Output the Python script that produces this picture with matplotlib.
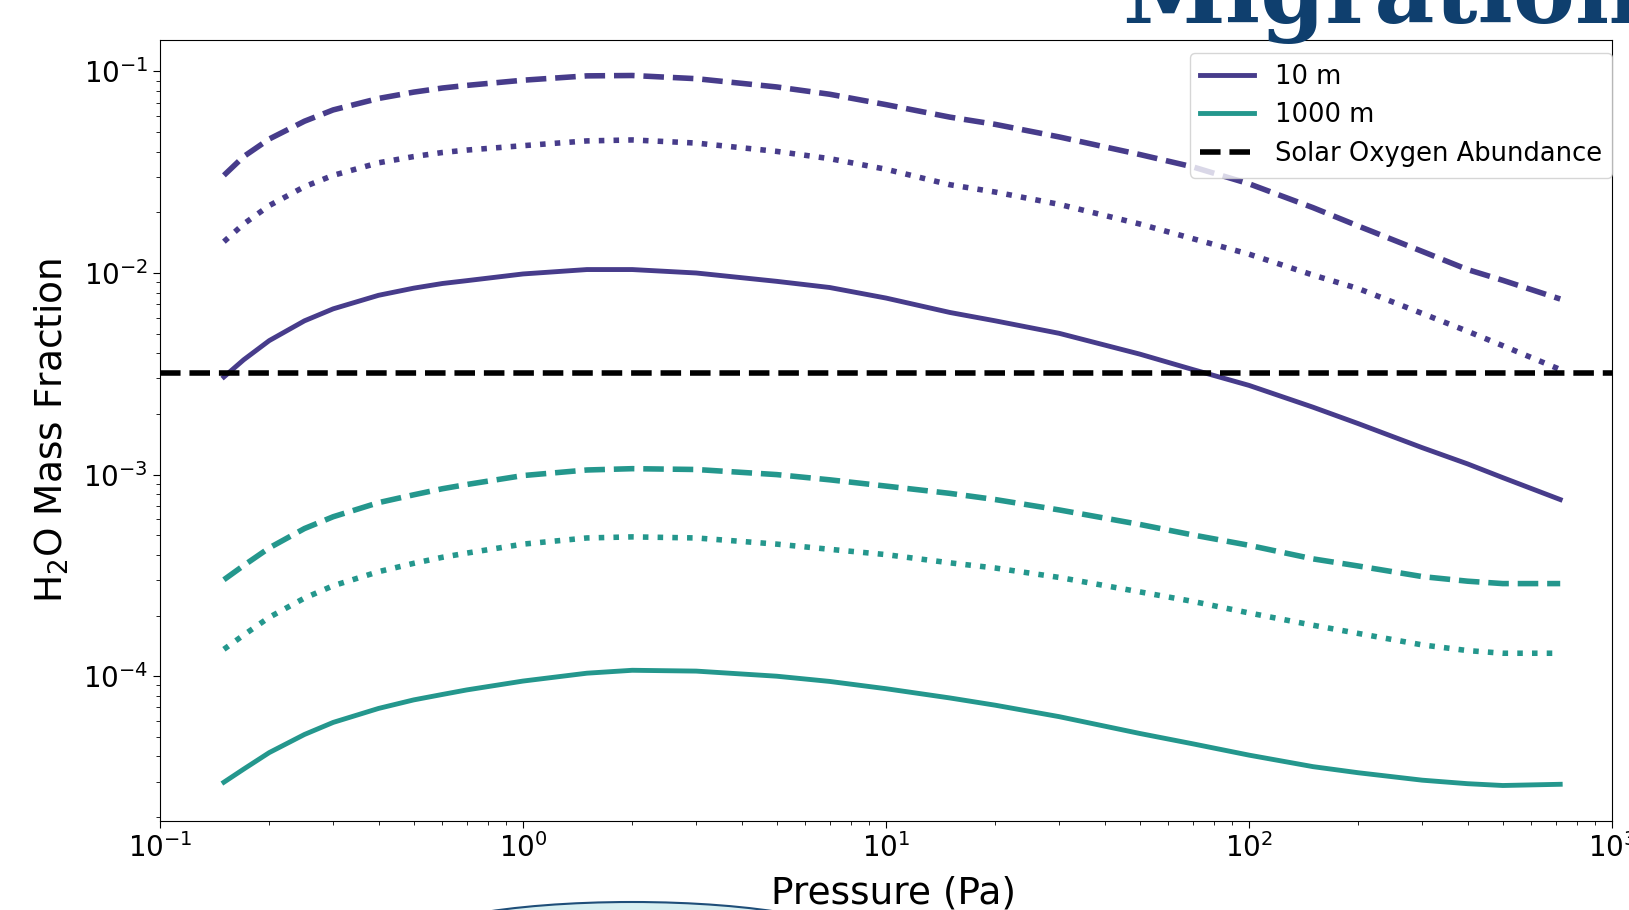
import numpy as np
import matplotlib.pyplot as plt
from matplotlib.patches import Ellipse

# pressure grid (Pa) the curves were read at
pressure = [0.15, 0.17, 0.2, 0.25, 0.3, 0.4, 0.5, 0.6, 0.7, 1, 1.5, 2, 3, 5, 7,
            10, 15, 20, 30, 50, 70, 100, 150, 200, 300, 400, 500, 720]

# 10 m
h2o_10_solid = [3.05e-3, 3.71e-3, 4.62e-3, 5.79e-3, 6.64e-3, 7.75e-3, 8.41e-3,
                8.87e-3, 9.16e-3, 9.89e-3, 1.04e-2, 1.04e-2, 1.00e-2, 9.09e-3,
                8.47e-3, 7.51e-3, 6.37e-3, 5.79e-3, 5.02e-3, 3.96e-3, 3.32e-3,
                2.77e-3, 2.16e-3, 1.79e-3, 1.36e-3, 1.13e-3, 9.66e-4, 7.52e-4]
h2o_10_dashed = [3.05e-2, 3.78e-2, 4.62e-2, 5.66e-2, 6.44e-2, 7.34e-2, 7.89e-2,
                 8.27e-2, 8.52e-2, 9.04e-2, 9.50e-2, 9.54e-2, 9.20e-2, 8.37e-2,
                 7.70e-2, 6.84e-2, 5.93e-2, 5.46e-2, 4.73e-2, 3.87e-2, 3.36e-2,
                 2.77e-2, 2.11e-2, 1.71e-2, 1.28e-2, 1.04e-2, 9.20e-3, 7.43e-3]
h2o_10_dotted = [1.43e-2, 1.75e-2, 2.16e-2, 2.68e-2, 3.05e-2, 3.52e-2, 3.78e-2,
                 3.96e-2, 4.07e-2, 4.28e-2, 4.52e-2, 4.57e-2, 4.41e-2, 4.01e-2,
                 3.69e-2, 3.27e-2, 2.74e-2, 2.52e-2, 2.19e-2, 1.75e-2, 1.48e-2,
                 1.24e-2, 9.77e-3, 8.37e-3, 6.30e-3, 5.14e-3, 4.36e-3, 3.32e-3]

# 1000 m
h2o_1000_solid = [2.98e-5, 3.46e-5, 4.18e-5, 5.14e-5, 5.90e-5, 6.92e-5, 7.63e-5,
                  8.12e-5, 8.55e-5, 9.46e-5, 1.035e-4, 1.07e-4, 1.06e-4, 1.00e-4,
                  9.42e-5, 8.67e-5, 7.80e-5, 7.18e-5, 6.30e-5, 5.20e-5, 4.62e-5,
                  4.06e-5, 3.56e-5, 3.32e-5, 3.05e-5, 2.93e-5, 2.87e-5, 2.91e-5]
h2o_1000_dashed = [3.01e-4, 3.54e-4, 4.33e-4, 5.40e-4, 6.18e-4, 7.26e-4, 7.94e-4,
                   8.51e-4, 8.93e-4, 9.89e-4, 1.054e-3, 1.07e-3, 1.06e-3, 1.00e-3,
                   9.42e-4, 8.77e-4, 8.07e-4, 7.52e-4, 6.68e-4, 5.66e-4, 5.02e-4,
                   4.46e-4, 3.82e-4, 3.52e-4, 3.12e-4, 2.96e-4, 2.88e-4, 2.88e-4]
h2o_1000_dotted = [1.36e-4, 1.60e-4, 1.96e-4, 2.44e-4, 2.81e-4, 3.30e-4, 3.63e-4,
                   3.89e-4, 4.08e-4, 4.52e-4, 4.85e-4, 4.91e-4, 4.85e-4, 4.52e-4,
                   4.26e-4, 4.01e-4, 3.65e-4, 3.44e-4, 3.09e-4, 2.62e-4, 2.35e-4,
                   2.06e-4, 1.79e-4, 1.63e-4, 1.43e-4, 1.34e-4, 1.30e-4, 1.30e-4]

solar_oxygen = 3.2e-3

purple = '#473c8b'
teal = '#24978d'
lw_solid = 3.5
lw = 4

fig = plt.figure(figsize=(16.29, 9.10), dpi=100)
ax = fig.add_axes([160/1629, 89/910, 1452/1629, 781/910])

ax.plot(pressure, h2o_10_solid, color=purple, lw=lw_solid, label='10 m')
ax.plot(pressure, h2o_10_dashed, color=purple, lw=lw, ls='--')
ax.plot(pressure, h2o_10_dotted, color=purple, lw=lw, ls=':')
ax.plot(pressure, h2o_1000_solid, color=teal, lw=lw_solid, label='1000 m')
ax.plot(pressure, h2o_1000_dashed, color=teal, lw=lw, ls='--')
ax.plot(pressure, h2o_1000_dotted, color=teal, lw=lw, ls=':')
ax.axhline(solar_oxygen, color='black', lw=lw, ls='--', label='Solar Oxygen Abundance')

ax.set_xscale('log')
ax.set_yscale('log')
ax.set_xlim(0.1, 1000)
ax.tick_params(which='major', labelsize=20, length=5)
ax.tick_params(which='minor', length=3)
ax.set_xlabel('Pressure (Pa)', fontsize=27, labelpad=9)
ax.set_ylabel(r'H$_2$O Mass Fraction', fontsize=27, labelpad=9)
ax.xaxis.label.set_x(0.505)

ax.legend(loc='upper right', bbox_to_anchor=(1.0, 0.983), borderaxespad=0,
          fontsize=18.5, handlelength=2.1)

# slide decorations around the chart
fig.text(1122/1629, 1 - 23/910, 'Migration', family='DejaVu Serif', weight='bold',
         fontsize=67, color='#0f3f6e', ha='left', va='baseline')
fig.patches.append(Ellipse((632/1629, 1 - 945/910), 458/1629, 86/910,
                           transform=fig.transFigure, facecolor='#d8eff1',
                           edgecolor='#1f4e79', lw=1.5, zorder=-1))

fig.savefig('out.png', dpi=100)
